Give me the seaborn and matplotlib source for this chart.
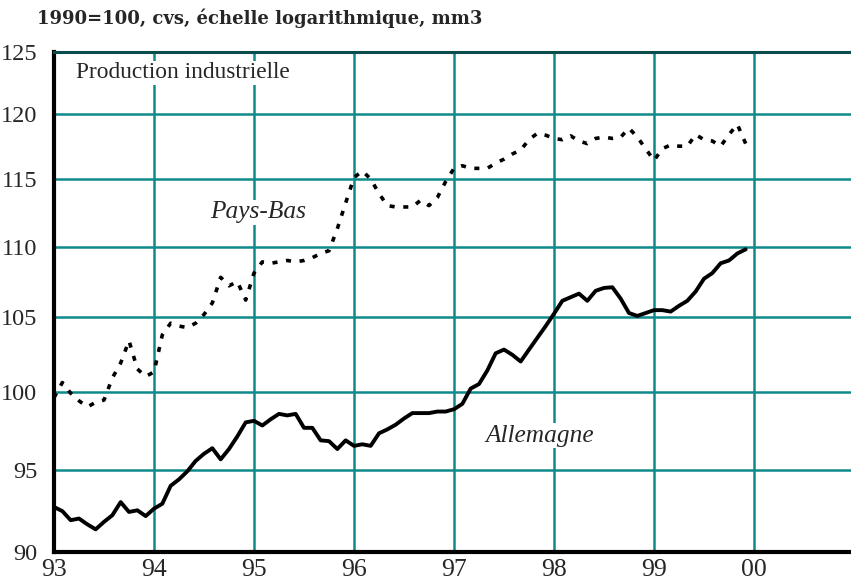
import numpy as np
import pandas as pd
import matplotlib
matplotlib.use("Agg")
import matplotlib.pyplot as plt
import seaborn as sns
from matplotlib.ticker import FixedLocator, FixedFormatter, NullLocator

# Indices mensuels jan. 1993 - dec. 1999 (1990=100, cvs, mm3)
allemagne = [
    92.7, 92.45, 91.9, 92.0, 91.65, 91.35, 91.8, 92.2, 93.0, 92.4, 92.5, 92.15,
    92.6, 92.9, 94.0, 94.4, 94.9, 95.55, 96.0, 96.35, 95.65, 96.3, 97.1, 98.0,
    98.1, 97.8, 98.2, 98.55, 98.45, 98.55, 97.65, 97.65, 96.85, 96.8, 96.3, 96.85,
    96.5, 96.6, 96.5, 97.3, 97.55, 97.85, 98.25, 98.6, 98.6, 98.6, 98.7, 98.7,
    98.85, 99.2, 100.2, 100.5, 101.4, 102.55, 102.8, 102.45, 102.0, 102.8, 103.6, 104.4,
    105.25, 106.15, 106.4, 106.65, 106.15, 106.85, 107.05, 107.1, 106.3, 105.3, 105.1, 105.3,
    105.5, 105.5, 105.4, 105.8, 106.15, 106.8, 107.7, 108.1, 108.8, 109.0, 109.5, 109.8,
]
pays_bas = [
    99.6, 100.6, 99.9, 99.4, 99.0, 99.3, 99.45, 100.9, 101.9, 103.4, 101.5, 101.0,
    101.3, 103.8, 104.6, 104.4, 104.3, 104.6, 105.2, 106.0, 107.8, 107.2, 107.5, 106.2,
    108.1, 108.9, 108.8, 108.9, 109.0, 108.9, 109.0, 109.2, 109.5, 109.7, 111.3, 113.2,
    115.1, 115.6, 115.0, 113.9, 113.0, 112.9, 112.9, 112.9, 113.4, 113.0, 113.6, 114.8,
    115.8, 116.0, 115.8, 115.8, 115.8, 116.2, 116.5, 116.9, 117.2, 118.0, 118.5, 118.35,
    118.1, 118.0, 118.3, 117.9, 117.7, 118.1, 118.2, 118.1, 118.2, 118.9, 118.2, 117.3,
    116.4, 117.3, 117.6, 117.5, 117.5, 118.4, 118.0, 117.9, 117.5, 118.4, 119.2, 117.7,
]
mois = pd.date_range("1993-01-01", periods=len(allemagne), freq="MS")
annee = mois.year - 1900 + (mois.month - 1) / 12

y_ticks = [90, 95, 100, 105, 110, 115, 120, 125]
x_ticks = [93, 94, 95, 96, 97, 98, 99, 100]
x_labels = ["93", "94", "95", "96", "97", "98", "99", "00"]

df = pd.DataFrame({"annee": np.concatenate([annee, annee]),
                   "indice": allemagne + pays_bas,
                   "pays": ["Allemagne"] * len(allemagne) + ["Pays-Bas"] * len(pays_bas)})

sns.set_style("white")
plt.rcParams["font.family"] = ["Liberation Serif", "DejaVu Serif"]

teal = "#0f8a8a"
fig = plt.figure(figsize=(8.51, 5.85), dpi=100)
ax = fig.add_axes([54 / 851, 1 - 552 / 585, 1 - 54 / 851, 500 / 585])

sns.lineplot(data=df[df.pays == "Allemagne"], x="annee", y="indice", ax=ax,
             color="black", linewidth=2.8, zorder=3)
sns.lineplot(data=df[df.pays == "Pays-Bas"], x="annee", y="indice", ax=ax,
             color="black", linewidth=2.6, linestyle=(0, (1.4, 2.4)), zorder=3)

ax.set_yscale("log")
ax.set_ylim(90, 125)
ax.set_xlim(93, 100.97)
ax.yaxis.set_major_locator(FixedLocator(y_ticks))
ax.yaxis.set_major_formatter(FixedFormatter([str(v) for v in y_ticks]))
ax.yaxis.set_minor_locator(NullLocator())
ax.xaxis.set_major_locator(FixedLocator(x_ticks))
ax.xaxis.set_major_formatter(FixedFormatter(x_labels))
ax.grid(True, color=teal, linewidth=1.8, zorder=1)
ax.set_axisbelow(True)

ax.tick_params(axis="y", direction="in", length=8, width=2, color="black",
               labelsize=17.5, pad=12)
ax.tick_params(axis="x", length=0, labelsize=18.5, pad=5)
ax.set_xlabel("")
ax.set_ylabel("")

for side in ["left", "bottom"]:
    ax.spines[side].set_color("black")
    ax.spines[side].set_linewidth(3)
ax.spines["top"].set_color("#0b4d4d")
ax.spines["top"].set_linewidth(2.2)
ax.spines["right"].set_visible(False)

box = dict(facecolor="white", edgecolor="none", pad=1)
ax.text(93.22, 123.3, "Production industrielle", fontsize=16.8, ha="left", va="center",
        bbox=box, zorder=4)
ax.text(94.56, 112.5, "Pays-Bas", fontsize=18.3, style="italic", ha="left", va="center",
        bbox=box, zorder=4)
ax.text(97.31, 97.15, "Allemagne", fontsize=18.3, style="italic", ha="left", va="center",
        bbox=box, zorder=4)

fig.text(37 / 851, 1 - 18 / 585, "1990=100, cvs, échelle logarithmique, mm3",
         fontsize=13, fontweight="bold", family=["DejaVu Serif"], ha="left", va="center")

fig.savefig("out.png", dpi=100)
